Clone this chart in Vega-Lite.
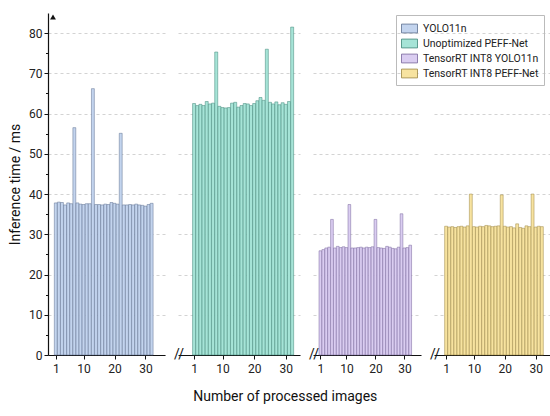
{
  "$schema": "https://vega.github.io/schema/vega-lite/v6.json",
  "background": "white",
  "padding": {"left": 8, "top": 13, "right": 2, "bottom": 5},
  "spacing": 8,
  "title": {"text": "Number of processed images", "orient": "bottom", "anchor": "middle", "fontSize": 14, "fontWeight": "normal", "font": "Roboto", "color": "#111", "offset": 16},
  "datasets": {
    "times": [
      {"model": "YOLO11n", "img": 1, "t": 37.8}, {"model": "YOLO11n", "img": 2, "t": 38.0}, {"model": "YOLO11n", "img": 3, "t": 37.9}, {"model": "YOLO11n", "img": 4, "t": 37.3},
      {"model": "YOLO11n", "img": 5, "t": 37.8}, {"model": "YOLO11n", "img": 6, "t": 37.6}, {"model": "YOLO11n", "img": 7, "t": 56.5}, {"model": "YOLO11n", "img": 8, "t": 37.8},
      {"model": "YOLO11n", "img": 9, "t": 37.5}, {"model": "YOLO11n", "img": 10, "t": 37.4}, {"model": "YOLO11n", "img": 11, "t": 37.6}, {"model": "YOLO11n", "img": 12, "t": 37.6},
      {"model": "YOLO11n", "img": 13, "t": 66.2}, {"model": "YOLO11n", "img": 14, "t": 37.4}, {"model": "YOLO11n", "img": 15, "t": 37.4}, {"model": "YOLO11n", "img": 16, "t": 37.3},
      {"model": "YOLO11n", "img": 17, "t": 37.5}, {"model": "YOLO11n", "img": 18, "t": 37.4}, {"model": "YOLO11n", "img": 19, "t": 37.9}, {"model": "YOLO11n", "img": 20, "t": 37.7},
      {"model": "YOLO11n", "img": 21, "t": 37.5}, {"model": "YOLO11n", "img": 22, "t": 55.1}, {"model": "YOLO11n", "img": 23, "t": 37.3}, {"model": "YOLO11n", "img": 24, "t": 37.3},
      {"model": "YOLO11n", "img": 25, "t": 37.4}, {"model": "YOLO11n", "img": 26, "t": 37.3}, {"model": "YOLO11n", "img": 27, "t": 37.5}, {"model": "YOLO11n", "img": 28, "t": 37.3},
      {"model": "YOLO11n", "img": 29, "t": 37.2}, {"model": "YOLO11n", "img": 30, "t": 37.0}, {"model": "YOLO11n", "img": 31, "t": 37.4}, {"model": "YOLO11n", "img": 32, "t": 37.7},
      {"model": "Unoptimized PEFF-Net", "img": 1, "t": 62.5}, {"model": "Unoptimized PEFF-Net", "img": 2, "t": 62.0}, {"model": "Unoptimized PEFF-Net", "img": 3, "t": 62.3}, {"model": "Unoptimized PEFF-Net", "img": 4, "t": 62.0},
      {"model": "Unoptimized PEFF-Net", "img": 5, "t": 63.0}, {"model": "Unoptimized PEFF-Net", "img": 6, "t": 62.4}, {"model": "Unoptimized PEFF-Net", "img": 7, "t": 62.6}, {"model": "Unoptimized PEFF-Net", "img": 8, "t": 75.3},
      {"model": "Unoptimized PEFF-Net", "img": 9, "t": 61.8}, {"model": "Unoptimized PEFF-Net", "img": 10, "t": 61.5}, {"model": "Unoptimized PEFF-Net", "img": 11, "t": 61.4}, {"model": "Unoptimized PEFF-Net", "img": 12, "t": 61.5},
      {"model": "Unoptimized PEFF-Net", "img": 13, "t": 62.6}, {"model": "Unoptimized PEFF-Net", "img": 14, "t": 62.8}, {"model": "Unoptimized PEFF-Net", "img": 15, "t": 61.6}, {"model": "Unoptimized PEFF-Net", "img": 16, "t": 62.0},
      {"model": "Unoptimized PEFF-Net", "img": 17, "t": 62.5}, {"model": "Unoptimized PEFF-Net", "img": 18, "t": 62.4}, {"model": "Unoptimized PEFF-Net", "img": 19, "t": 62.0}, {"model": "Unoptimized PEFF-Net", "img": 20, "t": 62.5},
      {"model": "Unoptimized PEFF-Net", "img": 21, "t": 63.2}, {"model": "Unoptimized PEFF-Net", "img": 22, "t": 64.0}, {"model": "Unoptimized PEFF-Net", "img": 23, "t": 63.3}, {"model": "Unoptimized PEFF-Net", "img": 24, "t": 76.0},
      {"model": "Unoptimized PEFF-Net", "img": 25, "t": 62.8}, {"model": "Unoptimized PEFF-Net", "img": 26, "t": 62.4}, {"model": "Unoptimized PEFF-Net", "img": 27, "t": 62.9}, {"model": "Unoptimized PEFF-Net", "img": 28, "t": 62.2},
      {"model": "Unoptimized PEFF-Net", "img": 29, "t": 62.7}, {"model": "Unoptimized PEFF-Net", "img": 30, "t": 62.3}, {"model": "Unoptimized PEFF-Net", "img": 31, "t": 63.0}, {"model": "Unoptimized PEFF-Net", "img": 32, "t": 81.5},
      {"model": "TensorRT INT8 YOLO11n", "img": 1, "t": 25.9}, {"model": "TensorRT INT8 YOLO11n", "img": 2, "t": 26.2}, {"model": "TensorRT INT8 YOLO11n", "img": 3, "t": 26.6}, {"model": "TensorRT INT8 YOLO11n", "img": 4, "t": 26.8},
      {"model": "TensorRT INT8 YOLO11n", "img": 5, "t": 33.7}, {"model": "TensorRT INT8 YOLO11n", "img": 6, "t": 26.6}, {"model": "TensorRT INT8 YOLO11n", "img": 7, "t": 27.0}, {"model": "TensorRT INT8 YOLO11n", "img": 8, "t": 26.7},
      {"model": "TensorRT INT8 YOLO11n", "img": 9, "t": 26.9}, {"model": "TensorRT INT8 YOLO11n", "img": 10, "t": 26.7}, {"model": "TensorRT INT8 YOLO11n", "img": 11, "t": 37.4}, {"model": "TensorRT INT8 YOLO11n", "img": 12, "t": 26.6},
      {"model": "TensorRT INT8 YOLO11n", "img": 13, "t": 26.6}, {"model": "TensorRT INT8 YOLO11n", "img": 14, "t": 26.7}, {"model": "TensorRT INT8 YOLO11n", "img": 15, "t": 26.8}, {"model": "TensorRT INT8 YOLO11n", "img": 16, "t": 26.6},
      {"model": "TensorRT INT8 YOLO11n", "img": 17, "t": 26.8}, {"model": "TensorRT INT8 YOLO11n", "img": 18, "t": 26.7}, {"model": "TensorRT INT8 YOLO11n", "img": 19, "t": 26.9}, {"model": "TensorRT INT8 YOLO11n", "img": 20, "t": 33.7},
      {"model": "TensorRT INT8 YOLO11n", "img": 21, "t": 26.7}, {"model": "TensorRT INT8 YOLO11n", "img": 22, "t": 26.6}, {"model": "TensorRT INT8 YOLO11n", "img": 23, "t": 26.5}, {"model": "TensorRT INT8 YOLO11n", "img": 24, "t": 27.0},
      {"model": "TensorRT INT8 YOLO11n", "img": 25, "t": 26.8}, {"model": "TensorRT INT8 YOLO11n", "img": 26, "t": 26.5}, {"model": "TensorRT INT8 YOLO11n", "img": 27, "t": 26.4}, {"model": "TensorRT INT8 YOLO11n", "img": 28, "t": 26.8},
      {"model": "TensorRT INT8 YOLO11n", "img": 29, "t": 35.1}, {"model": "TensorRT INT8 YOLO11n", "img": 30, "t": 26.6}, {"model": "TensorRT INT8 YOLO11n", "img": 31, "t": 26.7}, {"model": "TensorRT INT8 YOLO11n", "img": 32, "t": 27.3},
      {"model": "TensorRT INT8 PEFF-Net", "img": 1, "t": 32.0}, {"model": "TensorRT INT8 PEFF-Net", "img": 2, "t": 31.8}, {"model": "TensorRT INT8 PEFF-Net", "img": 3, "t": 31.9}, {"model": "TensorRT INT8 PEFF-Net", "img": 4, "t": 31.7},
      {"model": "TensorRT INT8 PEFF-Net", "img": 5, "t": 31.9}, {"model": "TensorRT INT8 PEFF-Net", "img": 6, "t": 32.0}, {"model": "TensorRT INT8 PEFF-Net", "img": 7, "t": 31.8}, {"model": "TensorRT INT8 PEFF-Net", "img": 8, "t": 32.1},
      {"model": "TensorRT INT8 PEFF-Net", "img": 9, "t": 40.0}, {"model": "TensorRT INT8 PEFF-Net", "img": 10, "t": 31.9}, {"model": "TensorRT INT8 PEFF-Net", "img": 11, "t": 31.8}, {"model": "TensorRT INT8 PEFF-Net", "img": 12, "t": 32.0},
      {"model": "TensorRT INT8 PEFF-Net", "img": 13, "t": 31.9}, {"model": "TensorRT INT8 PEFF-Net", "img": 14, "t": 32.2}, {"model": "TensorRT INT8 PEFF-Net", "img": 15, "t": 32.1}, {"model": "TensorRT INT8 PEFF-Net", "img": 16, "t": 31.9},
      {"model": "TensorRT INT8 PEFF-Net", "img": 17, "t": 32.0}, {"model": "TensorRT INT8 PEFF-Net", "img": 18, "t": 32.1}, {"model": "TensorRT INT8 PEFF-Net", "img": 19, "t": 39.8}, {"model": "TensorRT INT8 PEFF-Net", "img": 20, "t": 32.0},
      {"model": "TensorRT INT8 PEFF-Net", "img": 21, "t": 31.8}, {"model": "TensorRT INT8 PEFF-Net", "img": 22, "t": 31.9}, {"model": "TensorRT INT8 PEFF-Net", "img": 23, "t": 31.6}, {"model": "TensorRT INT8 PEFF-Net", "img": 24, "t": 32.6},
      {"model": "TensorRT INT8 PEFF-Net", "img": 25, "t": 31.7}, {"model": "TensorRT INT8 PEFF-Net", "img": 26, "t": 31.5}, {"model": "TensorRT INT8 PEFF-Net", "img": 27, "t": 32.1}, {"model": "TensorRT INT8 PEFF-Net", "img": 28, "t": 31.9},
      {"model": "TensorRT INT8 PEFF-Net", "img": 29, "t": 40.0}, {"model": "TensorRT INT8 PEFF-Net", "img": 30, "t": 31.8}, {"model": "TensorRT INT8 PEFF-Net", "img": 31, "t": 32.0}, {"model": "TensorRT INT8 PEFF-Net", "img": 32, "t": 31.9}
    ]
  },
  "config": {
    "font": "Roboto",
    "view": {"stroke": null},
    "axis": {
      "domainColor": "#111", "domainWidth": 1.2, "tickColor": "#111", "tickSize": 4,
      "labelFont": "Roboto", "labelFontSize": 12, "labelColor": "#222", "labelPadding": 2, "labelOverlap": false,
      "titleFont": "Roboto", "titleFontSize": 14, "titleFontWeight": "normal", "titleColor": "#111",
      "gridColor": "#c8c8c8", "gridDash": [3, 3], "gridWidth": 0.8
    },
    "axisX": {"grid": false, "labelAngle": 0, "title": null, "labelPadding": 4, "labelFlush": false, "labelBound": false, "tickCount": 10},
    "legend": {"labelFont": "Roboto", "labelFontSize": 10.5, "labelColor": "#222"}
  },
  "hconcat": [
    {
      "width": 117, "height": 342,
      "layer": [
        {
          "data": {"name": "times"},
          "transform": [{"filter": "datum.model === 'YOLO11n'"}],
          "mark": {"type": "bar", "size": 2.9, "strokeWidth": 0.5},
          "encoding": {
            "x": {"field": "img", "type": "quantitative", "scale": {"domain": [0.1, 34.7], "nice": false, "zero": false}, "axis": {"values": [1, 10, 20, 30], "tickCount": 10}},
            "y": {"field": "t", "type": "quantitative", "scale": {"domain": [0, 85], "nice": false}, "axis": {"values": [0, 10, 20, 30, 40, 50, 60, 70, 80], "tickCount": 10, "title": "Inference time / ms", "grid": true, "titlePadding": 6}},
            "color": {"field": "model", "type": "nominal",
              "scale": {"domain": ["YOLO11n", "Unoptimized PEFF-Net", "TensorRT INT8 YOLO11n", "TensorRT INT8 PEFF-Net"], "range": ["#c3d4ee", "#a6e4d7", "#dacdf1", "#f7e3a0"]},
              "legend": {"title": null, "orient": "none", "legendX": 348, "legendY": 2, "symbolType": "M-1,-0.55H1V0.55H-1Z", "symbolSize": 256, "symbolStrokeColor": "#666", "symbolStrokeWidth": 0.8, "strokeColor": "#bbb", "padding": 5, "rowPadding": 0, "labelOffset": 5, "labelLimit": 200}},
            "stroke": {"field": "model", "type": "nominal",
              "scale": {"domain": ["YOLO11n", "Unoptimized PEFF-Net", "TensorRT INT8 YOLO11n", "TensorRT INT8 PEFF-Net"], "range": ["#5c6f8e", "#3e8577", "#76649a", "#9b8540"]},
              "legend": null}
          }
        },
        {
          "data": {"values": [{}]},
          "mark": {"type": "point", "shape": "triangle-up", "filled": true, "color": "#111", "size": 34, "opacity": 1},
          "encoding": {
            "x": {"datum": 0.1, "type": "quantitative"},
            "y": {"datum": 84, "type": "quantitative", "axis": {"values": [5, 15, 25, 35, 45, 55, 65, 75], "tickCount": 10, "labels": false, "tickSize": 2.5, "domain": false, "grid": false, "title": null, "orient": "left"}}
          }
        }
      ],
      "resolve": {"axis": {"y": "independent"}}
    },
    {
      "width": 122, "height": 342,
      "layer": [
        {
          "data": {"name": "times"},
          "transform": [{"filter": "datum.model === 'Unoptimized PEFF-Net'"}],
          "mark": {"type": "bar", "size": 3.0, "strokeWidth": 0.5},
          "encoding": {
            "x": {"field": "img", "type": "quantitative", "scale": {"domain": [-2.5, 32.9], "nice": false, "zero": false}, "axis": {"values": [1, 10, 20, 30], "tickCount": 10}},
            "y": {"field": "t", "type": "quantitative", "scale": {"domain": [0, 85], "nice": false}, "axis": {"values": [10, 20, 30, 40, 50, 60, 70, 80], "tickCount": 10, "labels": false, "ticks": false, "domain": false, "title": null, "grid": true}},
            "color": {"field": "model", "type": "nominal"},
            "stroke": {"field": "model", "type": "nominal", "legend": null}
          }
        },
        {
          "data": {"values": [{}]},
          "mark": {"type": "text", "text": "//", "fontSize": 14, "dx": -4, "baseline": "middle", "color": "#111"},
          "encoding": {
            "x": {"datum": -2.5, "type": "quantitative"},
            "y": {"datum": 0, "type": "quantitative"}
          }
        }
      ]
    },
    {
      "width": 108, "height": 342,
      "layer": [
        {
          "data": {"name": "times"},
          "transform": [{"filter": "datum.model === 'TensorRT INT8 YOLO11n'"}],
          "mark": {"type": "bar", "size": 2.7, "strokeWidth": 0.5},
          "encoding": {
            "x": {"field": "img", "type": "quantitative", "scale": {"domain": [0.18, 34], "nice": false, "zero": false}, "axis": {"values": [1, 10, 20, 30], "tickCount": 10}},
            "y": {"field": "t", "type": "quantitative", "scale": {"domain": [0, 85], "nice": false}, "axis": {"values": [10, 20, 30, 40, 50, 60, 70, 80], "tickCount": 10, "labels": false, "ticks": false, "domain": false, "title": null, "grid": true}},
            "color": {"field": "model", "type": "nominal"},
            "stroke": {"field": "model", "type": "nominal", "legend": null}
          }
        },
        {
          "data": {"values": [{}]},
          "mark": {"type": "text", "text": "//", "fontSize": 14, "dx": -4, "baseline": "middle", "color": "#111"},
          "encoding": {
            "x": {"datum": 0.18, "type": "quantitative"},
            "y": {"datum": 0, "type": "quantitative"}
          }
        }
      ]
    },
    {
      "width": 128, "height": 342,
      "layer": [
        {
          "data": {"name": "times"},
          "transform": [{"filter": "datum.model === 'TensorRT INT8 PEFF-Net'"}],
          "mark": {"type": "bar", "size": 2.9, "strokeWidth": 0.5},
          "encoding": {
            "x": {"field": "img", "type": "quantitative", "scale": {"domain": [-1.3, 36.9], "nice": false, "zero": false}, "axis": {"values": [1, 10, 20, 30], "tickCount": 10}},
            "y": {"field": "t", "type": "quantitative", "scale": {"domain": [0, 85], "nice": false}, "axis": {"values": [10, 20, 30, 40, 50, 60, 70, 80], "tickCount": 10, "labels": false, "ticks": false, "domain": false, "title": null, "grid": true}},
            "color": {"field": "model", "type": "nominal"},
            "stroke": {"field": "model", "type": "nominal", "legend": null}
          }
        },
        {
          "data": {"values": [{}]},
          "mark": {"type": "text", "text": "//", "fontSize": 14, "dx": -4, "baseline": "middle", "color": "#111"},
          "encoding": {
            "x": {"datum": -1.3, "type": "quantitative"},
            "y": {"datum": 0, "type": "quantitative"}
          }
        },
        {
          "data": {"values": [{}]},
          "mark": {"type": "point", "shape": "triangle-right", "filled": true, "color": "#111", "size": 34, "opacity": 1},
          "encoding": {
            "x": {"datum": 36.2, "type": "quantitative"},
            "y": {"datum": 0, "type": "quantitative"}
          }
        }
      ]
    }
  ],
  "resolve": {"scale": {"color": "shared", "stroke": "shared"}}
}
